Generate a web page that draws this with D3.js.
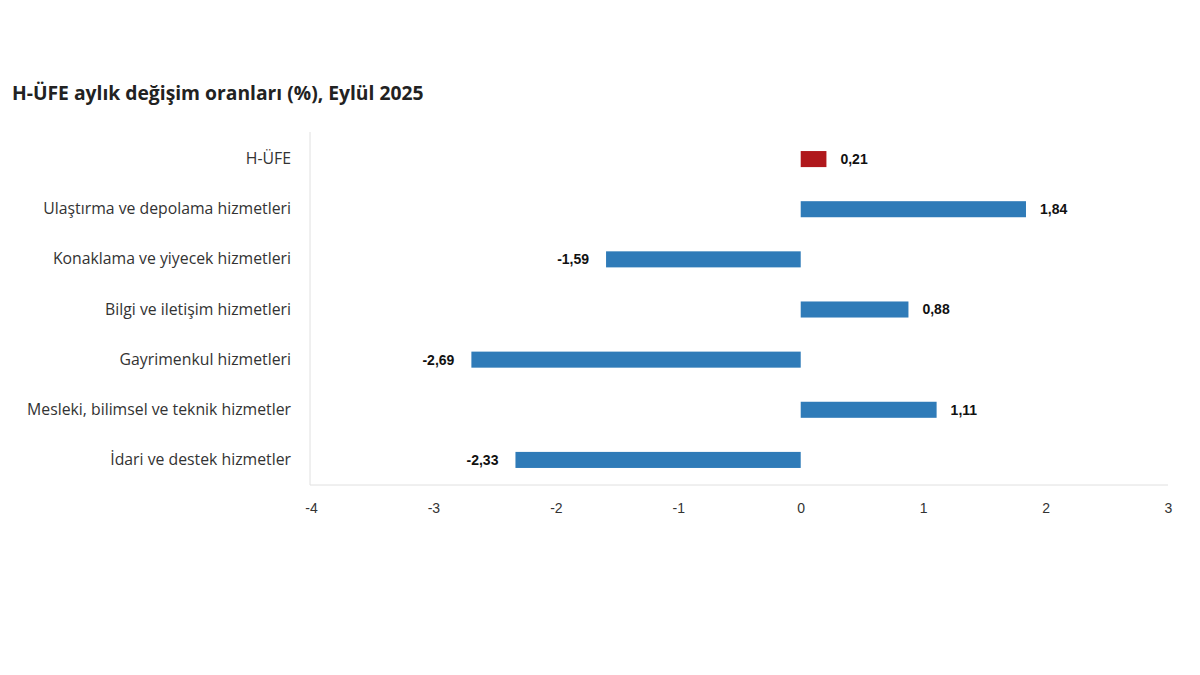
<!DOCTYPE html>
<html>
<head>
<meta charset="utf-8">
<script src="https://cdn.jsdelivr.net/npm/d3@7"></script>
<style>
  body { margin: 0; background: #fff; }
</style>
</head>
<body>
<svg id="chart" width="1200" height="675"></svg>
<script>
const categories = [
  "H-ÜFE",
  "Ulaştırma ve depolama hizmetleri",
  "Konaklama ve yiyecek hizmetleri",
  "Bilgi ve iletişim hizmetleri",
  "Gayrimenkul hizmetleri",
  "Mesleki, bilimsel ve teknik hizmetler",
  "İdari ve destek hizmetler"
];
const values = [0.21, 1.84, -1.59, 0.88, -2.69, 1.11, -2.33];
const xTicks = [-4, -3, -2, -1, 0, 1, 2, 3];

const svg = d3.select("#chart");
const plotLeft = 311, plotRight = 1168, plotTop = 134, plotBottom = 485;

const x = d3.scaleLinear().domain([-4, 3]).range([plotLeft, plotRight]);
const y = d3.scaleBand().domain(categories).range([plotTop, plotBottom]).paddingInner(0.68).paddingOuter(0.34);

// comma decimal, plain hyphen for minus
const fmtVal = d => d.toFixed(2).replace(".", ",");

// title
svg.append("text")
  .attr("x", 12)
  .attr("y", 100)
  .attr("font-family", "Open Sans, sans-serif")
  .attr("font-weight", "bold")
  .attr("font-size", 19.3)
  .attr("fill", "#222")
  .text("H-ÜFE aylık değişim oranları (%), Eylül 2025");

// axis lines
svg.append("line")
  .attr("x1", plotLeft - 1).attr("x2", plotLeft - 1)
  .attr("y1", plotTop - 2).attr("y2", plotBottom)
  .attr("stroke", "#e0e0e0").attr("stroke-width", 1);
svg.append("line")
  .attr("x1", plotLeft - 1).attr("x2", plotRight)
  .attr("y1", plotBottom).attr("y2", plotBottom)
  .attr("stroke", "#e0e0e0").attr("stroke-width", 1);

// x tick labels
const xAxis = d3.axisBottom(x).tickValues(xTicks).tickSize(0).tickPadding(18)
  .tickFormat(d => String(d));
const gx = svg.append("g").attr("transform", `translate(0,${plotBottom})`).call(xAxis);
gx.select(".domain").remove();
gx.selectAll("text")
  .attr("font-family", "Liberation Sans, sans-serif")
  .attr("font-size", 14)
  .attr("fill", "#333");

// category labels
const yAxis = d3.axisLeft(y).tickSize(0).tickPadding(20);
const gy = svg.append("g").attr("transform", `translate(${plotLeft},0)`).call(yAxis);
gy.select(".domain").remove();
gy.selectAll("text")
  .attr("font-family", "Open Sans, sans-serif")
  .attr("font-size", 15.8)
  .attr("fill", "#333");

// bars
svg.selectAll("rect.bar")
  .data(values)
  .join("rect")
  .attr("class", "bar")
  .attr("x", d => x(Math.min(0, d)))
  .attr("y", (d, i) => y(categories[i]))
  .attr("width", d => Math.abs(x(d) - x(0)))
  .attr("height", y.bandwidth())
  .attr("fill", (d, i) => i === 0 ? "#b0181c" : "#2f7bb8");

// value labels
svg.selectAll("text.val")
  .data(values)
  .join("text")
  .attr("class", "val")
  .attr("x", d => d >= 0 ? x(d) + 14 : x(d) - 17)
  .attr("y", (d, i) => y(categories[i]) + y.bandwidth() / 2)
  .attr("dy", "0.35em")
  .attr("text-anchor", d => d >= 0 ? "start" : "end")
  .attr("font-family", "Liberation Sans, sans-serif")
  .attr("font-weight", "bold")
  .attr("font-size", 14)
  .attr("fill", "#111")
  .text(fmtVal);
</script>
</body>
</html>
